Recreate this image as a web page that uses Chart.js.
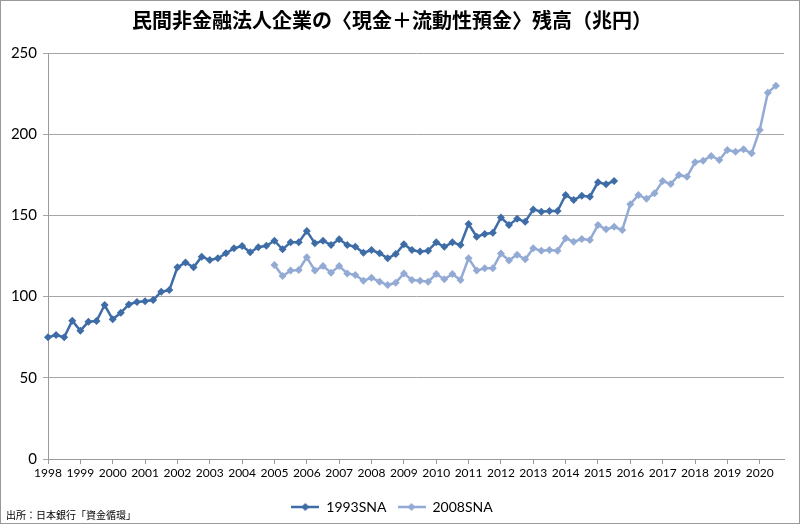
<!DOCTYPE html>
<html>
<head>
<meta charset="utf-8">
<script src="https://cdn.jsdelivr.net/npm/chart.js@4/dist/chart.umd.min.js"></script>
<style>
  body { margin: 0; background: #fff; }
  #wrap { position: relative; width: 800px; height: 524px; }
  #source { position: absolute; left: 6px; top: 507px; font: 10px "Noto Sans CJK JP", sans-serif; color: #000; }
</style>
</head>
<body>
<div id="wrap">
  <canvas id="chart" width="800" height="524"></canvas>
  <div id="source">出所：日本銀行「資金循環」</div>
</div>
<script>
// quarterly, 1998Q1 .. 2020Q4 (trillion yen)
const years = [1998, 1999, 2000, 2001, 2002, 2003, 2004, 2005, 2006, 2007, 2008, 2009,
               2010, 2011, 2012, 2013, 2014, 2015, 2016, 2017, 2018, 2019, 2020];
const quarters = ['Q1', 'Q2', 'Q3', 'Q4'];

const sna1993 = [
    75, 76.3, 75, 85.2, 79, 84.5, 85, 94.8,
    86, 90, 95.2, 96.7, 97.1, 97.9, 103, 104,
    118, 121, 118, 124.6, 122.5, 123.6, 126.7, 129.7,
    131.2, 127.3, 130.4, 131.3, 134.4, 129.1, 133.4, 133.4,
    140.4, 132.8, 134.4, 131.8, 135.3, 131.8, 130.7, 127,
    128.7, 126.7, 123.6, 126.2, 132.2, 128.7, 127.7, 128.3,
    133.4, 130.7, 133.4, 131.8, 144.7, 136.9, 138.5, 139.3,
    148.7, 144.1, 147.9, 146.1, 153.7, 152.3, 152.7, 152.7,
    162.6, 159.5, 162.1, 161.5, 170.4, 169.2, 171.2, null,
    null, null, null, null, null, null, null, null,
    null, null, null, null, null, null, null, null,
    null, null, null, null
];

const sna2008 = [
    null, null, null, null, null, null, null, null,
    null, null, null, null, null, null, null, null,
    null, null, null, null, null, null, null, null,
    null, null, null, null, 119.5, 112.7, 116, 116.4,
    124.2, 116, 118.8, 114.7, 118.8, 114.3, 113.3, 109.8,
    111.6, 109.2, 107.1, 108.6, 114.3, 110.2, 109.8, 109.2,
    113.9, 110.7, 113.9, 110.2, 123.6, 116, 117.4, 117.4,
    126.5, 122.3, 125.8, 123, 129.7, 128.3, 128.7, 128.3,
    135.9, 133.8, 135.5, 134.9, 144.1, 141.4, 143, 141,
    156.9, 162.6, 160.2, 163.6, 171.2, 169.3, 174.9, 173.8,
    182.7, 183.7, 186.6, 184.1, 190.3, 189.2, 190.7, 188.2,
    202.6, 225.6, 229.9, null
];

const yTicks = [0, 50, 100, 150, 200, 250];

const labels = [];
years.forEach(y => quarters.forEach(q => labels.push(y + q)));

const dark = '#3e6ca6';
const light = '#93abd4';

// legend swatch: short line with a diamond in the middle
function legendMark(color) {
    const c = document.createElement('canvas');
    c.width = 28; c.height = 10;
    const g = c.getContext('2d');
    g.strokeStyle = color; g.lineWidth = 2.5;
    g.beginPath(); g.moveTo(0, 5); g.lineTo(28, 5); g.stroke();
    g.fillStyle = color;
    g.beginPath(); g.moveTo(14, 1); g.lineTo(18, 5); g.lineTo(14, 9); g.lineTo(10, 5); g.closePath(); g.fill();
    return c;
}

const frame = {
    id: 'frame',
    beforeDraw(chart) {
        const ctx = chart.ctx;
        ctx.save();
        ctx.fillStyle = '#fff';
        ctx.fillRect(0, 0, chart.width, chart.height);
        ctx.strokeStyle = '#999';
        ctx.lineWidth = 1;
        ctx.strokeRect(0.5, 0.5, chart.width - 1, chart.height - 1);
        ctx.restore();
    }
};

const marks = { dark: legendMark(dark), light: legendMark(light) };

new Chart(document.getElementById('chart'), {
    type: 'line',
    data: {
        labels,
        datasets: [
            { label: '1993SNA', data: sna1993, borderColor: dark, backgroundColor: dark,
              borderWidth: 2.5, pointStyle: 'rectRot', pointRadius: 4, pointBorderWidth: 0,
              spanGaps: false, tension: 0 },
            { label: '2008SNA', data: sna2008, borderColor: light, backgroundColor: light,
              borderWidth: 2.5, pointStyle: 'rectRot', pointRadius: 4, pointBorderWidth: 0,
              spanGaps: false, tension: 0 }
        ]
    },
    options: {
        responsive: false,
        animation: false,
        events: [],
        layout: { padding: { left: 0, right: 16, bottom: 0 } },
        plugins: {
            title: {
                display: true,
                text: '民間非金融法人企業の〈現金＋流動性預金〉残高（兆円）',
                color: '#000',
                font: { family: '"Noto Sans CJK JP", sans-serif', size: 20, weight: 'bold', lineHeight: 1.2 },
                padding: { top: 8, bottom: 21 }
            },
            legend: {
                position: 'bottom',
                labels: {
                    usePointStyle: true,
                    pointStyleWidth: 28,
                    boxHeight: 10,
                    padding: 11,
                    color: '#000',
                    font: { family: 'Lato, sans-serif', size: 14 },
                    generateLabels: chart => chart.data.datasets.map((ds, i) => ({
                        text: ds.label,
                        pointStyle: i === 0 ? marks.dark : marks.light,
                        fillStyle: ds.borderColor,
                        strokeStyle: ds.borderColor,
                        lineWidth: 0,
                        fontColor: '#000',
                        datasetIndex: i
                    }))
                }
            },
            tooltip: { enabled: false }
        },
        scales: {
            x: {
                offset: false,
                grid: {
                    drawOnChartArea: false,
                    tickLength: 5,
                    color: ctx => ctx.index % 4 === 0 ? '#9a9a9a' : 'transparent'
                },
                border: { color: '#9a9a9a' },
                ticks: {
                    autoSkip: false,
                    maxRotation: 0,
                    padding: 2,
                    color: '#000',
                    font: { family: 'Lato, sans-serif', size: 12 },
                    callback: (v, i) => i % 4 === 0 ? labels[i].slice(0, 4) : ''
                },
                afterFit: s => { s.height = 30; }
            },
            y: {
                min: yTicks[0],
                max: yTicks[yTicks.length - 1],
                grid: { color: '#a6a6a6', tickLength: 5 },
                border: { color: '#9a9a9a' },
                afterBuildTicks: s => { s.ticks = yTicks.map(v => ({ value: v })); },
                ticks: {
                    padding: 6,
                    color: '#000',
                    font: { family: 'Lato, sans-serif', size: 15 }
                },
                afterFit: s => { s.width = 48; }
            }
        }
    },
    plugins: [frame]
});
</script>
</body>
</html>
